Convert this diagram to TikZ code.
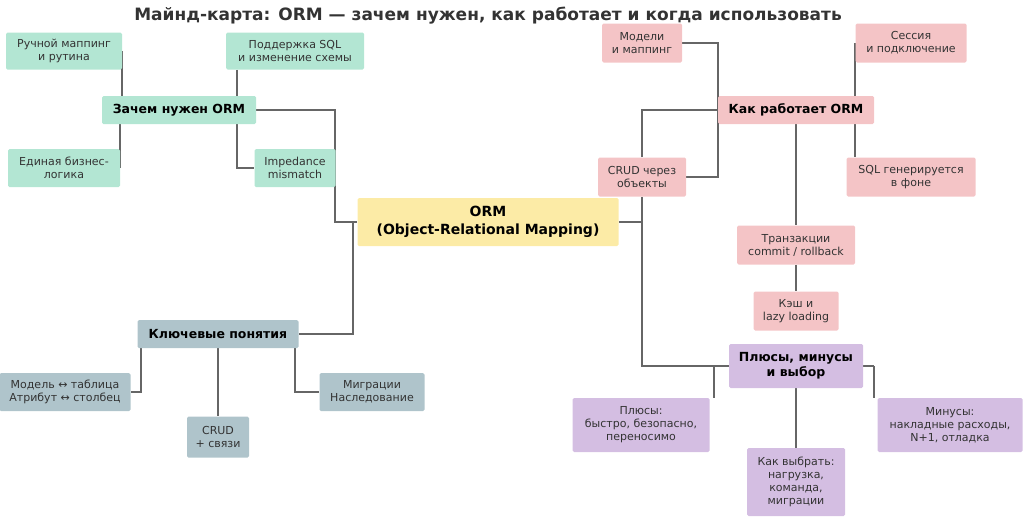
\documentclass[tikz,border=0pt]{standalone}
\usepackage{fontspec}
\setmainfont{DejaVu Sans}
\usetikzlibrary{backgrounds}
\definecolor{cg}{HTML}{B3E6D3}
\definecolor{cp}{HTML}{F4C4C6}
\definecolor{cy}{HTML}{FCEBA6}
\definecolor{cb}{HTML}{AFC4CB}
\definecolor{cv}{HTML}{D4BEE2}
\definecolor{ln}{HTML}{666666}
\definecolor{tx}{HTML}{333333}
\begin{document}
\begin{tikzpicture}[x=1pt,y=-1pt,
 box/.style={rectangle,rounded corners=1.5pt,inner sep=0pt,align=center,text=tx,font=\fontsize{11}{13}\selectfont},
 head/.style={box,text=black,font=\fontsize{12.5}{15}\selectfont\bfseries},
 g/.style={box,fill=cg}, p/.style={box,fill=cp}, b/.style={box,fill=cb}, v/.style={box,fill=cv},
 c/.style={draw=ln,line width=1.8pt}]
\useasboundingbox (0,0) rectangle (1024,517);
\node[font=\fontsize{17}{20}\selectfont\bfseries,text=tx] (title) at (488,16) {Майнд-карта: ORM — зачем нужен, как работает и когда использовать};
% center
\node[box,fill=cy,text=black,font=\fontsize{14}{18}\selectfont\bfseries,minimum width=261pt,minimum height=48pt] (orm) at (488,222) {ORM\\(Object-Relational Mapping)};
% green
\node[g,minimum width=116pt,minimum height=37pt] (g1) at (64,51) {Ручной маппинг\\и рутина};
\node[g,minimum width=138pt,minimum height=37pt] (g2) at (295,51) {Поддержка SQL\\и изменение схемы};
\node[head,fill=cg,minimum width=154pt,minimum height=28pt] (gz) at (179,110) {Зачем нужен ORM};
\node[g,minimum width=112pt,minimum height=38pt] (g3) at (64,168) {Единая бизнес-\\логика};
\node[g,minimum width=81pt,minimum height=38pt] (g4) at (295,168) {Impedance\\mismatch};
% pink
\node[p,minimum width=80pt,minimum height=39pt] (p1) at (642,43) {Модели\\и маппинг};
\node[p,minimum width=111pt,minimum height=39pt] (p2) at (911,43) {Сессия\\и подключение};
\node[head,fill=cp,minimum width=156pt,minimum height=28pt] (pk) at (796,110) {Как работает ORM};
\node[p,minimum width=88pt,minimum height=39pt] (p3) at (642,177) {CRUD через\\объекты};
\node[p,minimum width=129pt,minimum height=39pt] (p4) at (911,177) {SQL генерируется\\в фоне};
\node[p,minimum width=118pt,minimum height=39pt] (p5) at (796,245) {Транзакции\\commit / rollback};
\node[p,minimum width=85pt,minimum height=39pt] (p6) at (796,311) {Кэш и\\lazy loading};
% violet
\node[head,fill=cv,minimum width=134pt,minimum height=44pt] (vk) at (796,366) {Плюсы, минусы\\и выбор};
\node[v,minimum width=137pt,minimum height=54pt] (v1) at (641,425) {Плюсы:\\быстро, безопасно,\\переносимо};
\node[v,minimum width=145pt,minimum height=54pt] (v2) at (950,425) {Минусы:\\накладные расходы,\\N+1, отладка};
\node[v,minimum width=98pt,minimum height=68pt] (v3) at (796,482) {Как выбрать:\\нагрузка,\\команда,\\миграции};
% blue
\node[head,fill=cb,minimum width=161pt,minimum height=28pt] (bk) at (218,334) {Ключевые понятия};
\node[b,minimum width=131pt,minimum height=38pt] (b1) at (65,392) {Модель ↔ таблица\\Атрибут ↔ столбец};
\node[b,minimum width=62pt,minimum height=41pt] (b2) at (218,437) {CRUD\\+ связи};
\node[b,minimum width=105pt,minimum height=38pt] (b3) at (372,392) {Миграции\\Наследование};
\begin{scope}[on background layer]
\draw[c] (g1.east) -- (g1.east |- gz.north);
\draw[c] (g3.east) -- (g3.east |- gz.south);
\draw[c] (g2.south west) ++(11,0) coordinate (a1) -- (a1 |- gz.north);
\draw[c] (gz.south east) ++(-19,0) coordinate (a2) |- (g4.west);
\draw[c] (gz.east) -| (335,222) coordinate (a3) -- (orm.west);
\draw[c] (orm.west) ++(-4,0) coordinate (a4) |- (bk.east);
\draw[c] (bk.south west) ++(4,0) coordinate (a5) |- (b1.east);
\draw[c] (bk.south) -- (b2.north);
\draw[c] (bk.south east) ++(-4,0) coordinate (a6) |- (b3.west);
\draw[c] (orm.east) -| (p3.south);
\draw[c] (p3.south) |- (vk.west);
\draw[c] (p3.north) |- (pk.west);
\draw[c] (p3.east) -| (718,110) coordinate (a7);
\draw[c] (p1.east) -| (a7);
\draw[c] (p2.west) ++(0,0) coordinate (a8) -- (a8 |- pk.north);
\draw[c] (pk.south east) ++(-19,0) coordinate (a9) -- (a9 |- p4.north);
\draw[c] (pk.south) -- (p5.north);
\draw[c] (p5.south) -- (p6.north);
\draw[c] (vk.west) ++(-15,0) coordinate (b7) -- (b7 |- v1.north);
\draw[c] (vk.east) ++(11,0) coordinate (b8) -- (b8 |- v2.north);
\draw[c] (vk.east) -- (b8);
\draw[c] (vk.south) -- (v3.north);
\end{scope}
\end{tikzpicture}
\end{document}
